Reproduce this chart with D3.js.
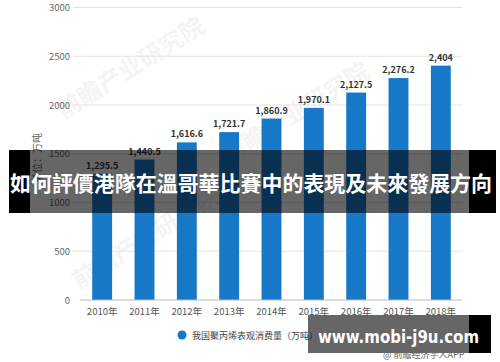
<!DOCTYPE html>
<html>
<head>
<meta charset="utf-8">
<script src="https://cdn.jsdelivr.net/npm/d3@7"></script>
<style>
  body { margin: 0; background: #fff; }
  svg { display: block; font-family: "Noto Sans CJK SC", "Noto Sans", sans-serif; }
</style>
</head>
<body>
<div id="svg-div"></div>
<script>
// data
var years = ["2010年", "2011年", "2012年", "2013年", "2014年", "2015年", "2016年", "2017年", "2018年"];
var consumption = [1295.5, 1440.5, 1616.6, 1721.7, 1860.9, 1970.1, 2127.5, 2276.2, 2404];
var yTicks = [0, 500, 1000, 1500, 2000, 2500, 3000];
var seriesName = "我国聚丙烯表观消费量（万吨）";
var yTitle = "单位：万吨";
var bannerTitle = "如何評價港隊在溫哥華比賽中的表現及未來發展方向";
var siteText = "www.mobi-j9u.com";
var sourceText = "@ 前瞻经济学人APP";

var width = 500;
var height = 362;
var svg = d3.select("#svg-div").append("svg")
  .attr("width", width).attr("height", height);

var x = d3.scaleBand().domain(years).range([81, 462]).paddingInner(0.53).paddingOuter(0.265);
var y = d3.scaleLinear().domain([0, 3000]).range([300, 7.5]);

// faint watermark
[[135, 75], [150, 245], [300, 120]].forEach(function (p) {
  svg.append("text")
    .attr("transform", "translate(" + p[0] + "," + p[1] + ") rotate(-32)")
    .attr("text-anchor", "middle")
    .style("font-size", "24px")
    .style("font-weight", "bold")
    .style("fill", "#000")
    .style("opacity", 0.04)
    .text("前瞻产业研究院");
});

// grid
svg.append("g").selectAll("line")
  .data(yTicks.filter(function (d) { return d > 0; }))
  .enter().append("line")
  .attr("x1", 73).attr("x2", 462)
  .attr("y1", function (d) { return y(d); })
  .attr("y2", function (d) { return y(d); })
  .style("stroke", "#e3e3e3").style("stroke-width", 1);

// y labels
svg.append("g").selectAll("text")
  .data(yTicks)
  .enter().append("text")
  .attr("x", 70)
  .attr("y", function (d) { return y(d) + 3.5; })
  .attr("text-anchor", "end")
  .style("font-size", "9.5px")
  .style("fill", "#666")
  .text(function (d) { return d; });

svg.append("text")
  .attr("transform", "translate(41,158) rotate(-90)")
  .attr("text-anchor", "middle")
  .style("font-size", "10px")
  .style("fill", "#666")
  .text(yTitle);

// bars
svg.append("g").selectAll("rect")
  .data(consumption)
  .enter().append("rect")
  .attr("x", function (d, i) { return x(years[i]); })
  .attr("y", function (d) { return y(d); })
  .attr("width", x.bandwidth())
  .attr("height", function (d) { return y(0) - y(d); })
  .style("fill", "#1878c8");

// baseline
svg.append("line")
  .attr("x1", 80).attr("x2", 462)
  .attr("y1", y(0)).attr("y2", y(0))
  .style("stroke", "#bbb").style("stroke-width", 1);

// value labels
var fmt = d3.format(",");
svg.append("g").selectAll("text")
  .data(consumption)
  .enter().append("text")
  .attr("x", function (d, i) { return x(years[i]) + x.bandwidth() / 2; })
  .attr("y", function (d) { return y(d) - 5; })
  .attr("text-anchor", "middle")
  .style("font-size", "9px")
  .style("font-weight", "bold")
  .style("fill", "#333")
  .text(function (d) { return fmt(d); });

// x labels
svg.append("g").selectAll("text")
  .data(years)
  .enter().append("text")
  .attr("x", function (d) { return x(d) + x.bandwidth() / 2; })
  .attr("y", 315)
  .attr("text-anchor", "middle")
  .style("font-size", "9.5px")
  .style("fill", "#555")
  .text(function (d) { return d; });

// legend
svg.append("circle").attr("cx", 182).attr("cy", 335).attr("r", 4.5).style("fill", "#1878c8");
svg.append("text")
  .attr("x", 192).attr("y", 338.5)
  .style("font-size", "9px")
  .style("fill", "#444")
  .text(seriesName);

// banner overlay: opaque black sides, translucent middle
svg.append("rect").attr("x", 9).attr("y", 150).attr("width", 21).attr("height", 63).style("fill", "#000");
svg.append("rect").attr("x", 469).attr("y", 150).attr("width", 27).attr("height", 63).style("fill", "#000");
svg.append("rect").attr("x", 30).attr("y", 150).attr("width", 439).attr("height", 63)
  .style("fill", "#000").style("opacity", 0.6);
svg.append("text")
  .attr("x", 10).attr("y", 191)
  .attr("textLength", 482).attr("lengthAdjust", "spacingAndGlyphs")
  .style("font-family", "'Noto Sans CJK TC', sans-serif")
  .style("font-size", "21px")
  .style("font-weight", "bold")
  .style("fill", "#fff")
  .text(bannerTitle);

// site overlay
svg.append("rect").attr("x", 308).attr("y", 315).attr("width", 161).attr("height", 38)
  .style("fill", "#000").style("opacity", 0.6);
svg.append("rect").attr("x", 469).attr("y", 315).attr("width", 22).attr("height", 38).style("fill", "#000");
svg.append("text")
  .attr("x", 318).attr("y", 343)
  .attr("textLength", 161).attr("lengthAdjust", "spacingAndGlyphs")
  .style("font-family", "'DejaVu Sans', sans-serif")
  .style("font-size", "18px")
  .style("font-weight", "bold")
  .style("fill", "#fff")
  .text(siteText);
svg.append("text")
  .attr("x", 383).attr("y", 358)
  .style("font-size", "9px")
  .style("fill", "#666")
  .text(sourceText);
</script>
</body>
</html>
